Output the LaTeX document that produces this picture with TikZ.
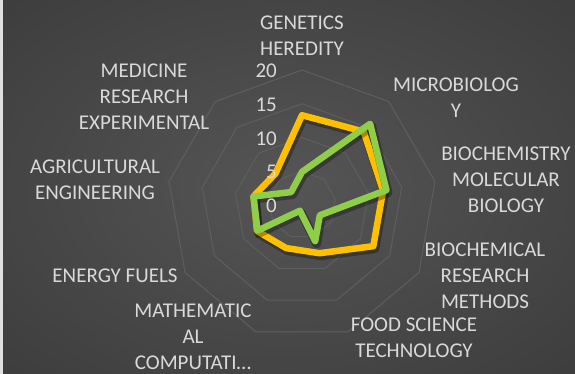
\documentclass[tikz,border=0pt]{standalone}
\usepackage{fontspec}
\setmainfont{Carlito}
\definecolor{bgin}{HTML}{555555}
\definecolor{bgmid}{HTML}{464646}
\definecolor{bgout}{HTML}{262626}
\definecolor{gridc}{HTML}{5E5E5E}
\definecolor{txtc}{HTML}{D9D9D9}
\definecolor{orangec}{HTML}{FFC000}
\definecolor{greenc}{HTML}{8FCE48}
\pgfdeclareradialshading{bgshade}{\pgfpoint{0bp}{0bp}}{color(0bp)=(bgin); color(22bp)=(bgmid); color(72bp)=(bgout)}
\tikzset{
  cat/.style={text=txtc, align=center, inner sep=0pt, font=\fontsize{21}{26}\selectfont},
  tick/.style={text=txtc, anchor=east, inner sep=0pt, font=\fontsize{21}{26}\selectfont},
  gridline/.style={draw=gridc, line width=1pt},
  series/.style={line width=6.5pt, line join=round, line cap=round},
  shadowline/.style={draw=black, opacity=0.3, line width=9pt, line join=round},
}
\begin{document}
\begin{tikzpicture}[x=1pt, y=-1pt]
\useasboundingbox (0,0) rectangle (575,374);
\shade[shading=bgshade] (0,0) rectangle (575,374);
\fill[white!88!black] (0,0) rectangle (2.6,374);
\begin{scope}[shift={(302,205)}, x=6.75pt, y=6.75pt]
  \foreach \r in {5,10,15,20} {
    \draw[gridline] (90:\r) \foreach \a in {130,170,...,410} { -- (\a:\r) } -- cycle;
  }
  % orange series
  \begin{scope}[shift={(1.5pt,-2.5pt)}]
    \draw[shadowline] (90:13.3) \foreach \a/\v in {50/14.2,10/12.2,-30/12.2,-70/7.6,-110/6.8,-150/7.7,170/7.3,130/6.1} { -- (\a:\v) } -- cycle;
  \end{scope}
  \draw[series, draw=orangec] (90:13.3) \foreach \a/\v in {50/14.2,10/12.2,-30/12.2,-70/7.6,-110/6.8,-150/7.7,170/7.3,130/6.1} { -- (\a:\v) } -- cycle;
  % green series
  \begin{scope}[shift={(1.5pt,-2.5pt)}]
    \draw[shadowline] (90:4.9) \foreach \a/\v in {50/15.7,10/12.7,-30/3.05,-70/5.7,-110/0.9,-150/7.6,170/7.3,130/2.5} { -- (\a:\v) } -- cycle;
  \end{scope}
  \draw[series, draw=greenc] (90:4.9) \foreach \a/\v in {50/15.7,10/12.7,-30/3.05,-70/5.7,-110/0.9,-150/7.6,170/7.3,130/2.5} { -- (\a:\v) } -- cycle;
\end{scope}
% category labels
\node[cat] (gen) at (302,36) {GENETICS\\HEREDITY};
\node[cat] (micro) at (456,98) {MICROBIOLOG\\Y};
\node[cat] (biochem) at (506,180) {BIOCHEMISTRY\\MOLECULAR\\BIOLOGY};
\node[cat] (biores) at (485,276) {BIOCHEMICAL\\RESEARCH\\METHODS};
\node[cat] (food) at (414,338) {FOOD SCIENCE\\TECHNOLOGY};
\node[cat] (math) at (193,337) {MATHEMATIC\\AL\\COMPUTATI…};
\node[cat] (energy) at (115,276) {ENERGY FUELS};
\node[cat] (agri) at (95,180) {AGRICULTURAL\\ENGINEERING};
\node[cat] (med) at (144,97) {MEDICINE\\RESEARCH\\EXPERIMENTAL};
% tick labels
\foreach \k in {0,5,10,15,20} {
  \node[tick] (t\k) at (277,{206-6.76*\k}) {\k};
}
\end{tikzpicture}
\end{document}
